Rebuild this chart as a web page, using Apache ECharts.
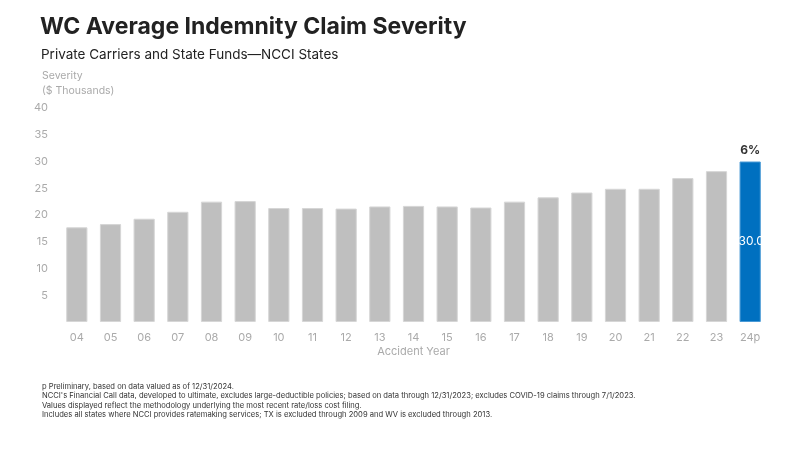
<!DOCTYPE html>
<html><head><meta charset="utf-8">
<script src="https://cdn.jsdelivr.net/npm/echarts@6/dist/echarts.min.js"></script>
<style>html,body{margin:0;padding:0;background:#fff}#c{width:800px;height:450px}</style>
</head><body><div id="c"></div>
<script>
const categories = ['04','05','06','07','08','09','10','11','12','13','14','15','16','17','18','19','20','21','22','23','24p'];
const severity = [17.7,18.3,19.3,20.6,22.5,22.6,21.3,21.3,21.2,21.6,21.7,21.6,21.4,22.5,23.3,24.2,24.9,24.9,26.9,28.2,30.0];
const yTicks = [0,5,10,15,20,25,30,35,40];
const changeLabel = '6%';
const footnotes = [
 'p Preliminary, based on data valued as of 12/31/2024.',
 "NCCI's Financial Call data, developed to ultimate, excludes large-deductible policies; based on data through 12/31/2023; excludes COVID-19 claims through 7/1/2023.",
 'Values displayed reflect the methodology underlying the most recent rate/loss cost filing.',
 'Includes all states where NCCI provides ratemaking services; TX is excluded through 2009 and WV is excluded through 2013.'
];
const FONT = 'Inter';
const chart = echarts.init(document.getElementById('c'));
const last = severity.length - 1;
chart.setOption({
  animation: false,
  textStyle: {fontFamily: FONT},
  title: [
    {text: 'WC Average Indemnity Claim Severity', left: 35, top: 11,
     textStyle: {fontSize: 23, fontWeight: 'bold', color: '#222', fontFamily: FONT}},
    {text: 'Private Carriers and State Funds\u2014NCCI States', left: 36, top: 43,
     textStyle: {fontSize: 13.5, fontWeight: 'normal', color: '#222', fontFamily: FONT}},
    {text: 'Severity\n($ Thousands)', left: 37, top: 63,
     textStyle: {fontSize: 10.5, fontWeight: 'normal', color: '#aaa', lineHeight: 15, fontFamily: FONT}},
    {text: footnotes.join('\n'), left: 37, top: 377,
     textStyle: {fontSize: 7.6, fontWeight: 'normal', color: '#333', lineHeight: 9.4, fontFamily: FONT}}
  ],
  grid: {left: 60, right: 33, top: 108, bottom: 128, containLabel: false},
  xAxis: {
    type: 'category', data: categories,
    name: 'Accident Year', nameLocation: 'middle', nameGap: 24,
    nameTextStyle: {color: '#aaa', fontSize: 11},
    axisLine: {show: false}, axisTick: {show: false},
    axisLabel: {color: '#aaa', fontSize: 11, margin: 10}
  },
  yAxis: {
    type: 'value', min: yTicks[0], max: yTicks[yTicks.length-1], interval: 5,
    splitLine: {show: false}, axisLine: {show: false}, axisTick: {show: false},
    axisLabel: {color: '#aaa', fontSize: 11, margin: 12,
      formatter: v => v === 0 ? '' : String(v)}
  },
  series: [
    {type: 'bar', barWidth: '63%', barGap: '-100%',
     data: severity.map((v, i) => ({value: v,
       itemStyle: {color: i === last ? '#0070C0' : '#BFBFBF',
                   borderColor: i === last ? '#4a9ad6' : '#d6d6d6', borderWidth: 1},
       label: i === last ? {show: true, position: 'inside', formatter: p => p.value.toFixed(1),
                            color: '#fff', fontSize: 12, overflow: 'none', offset: [1, 0]} : {show: false}}))
    },
    {type: 'bar', barWidth: '63%', barGap: '-100%', silent: true,
     data: severity.map((v, i) => ({value: i === last ? v : null,
       itemStyle: {color: 'transparent'},
       label: {show: i === last, position: 'top', formatter: changeLabel,
               color: '#333', fontSize: 12, fontWeight: 'bold', distance: 5}}))
    }
  ]
});
</script></body></html>
